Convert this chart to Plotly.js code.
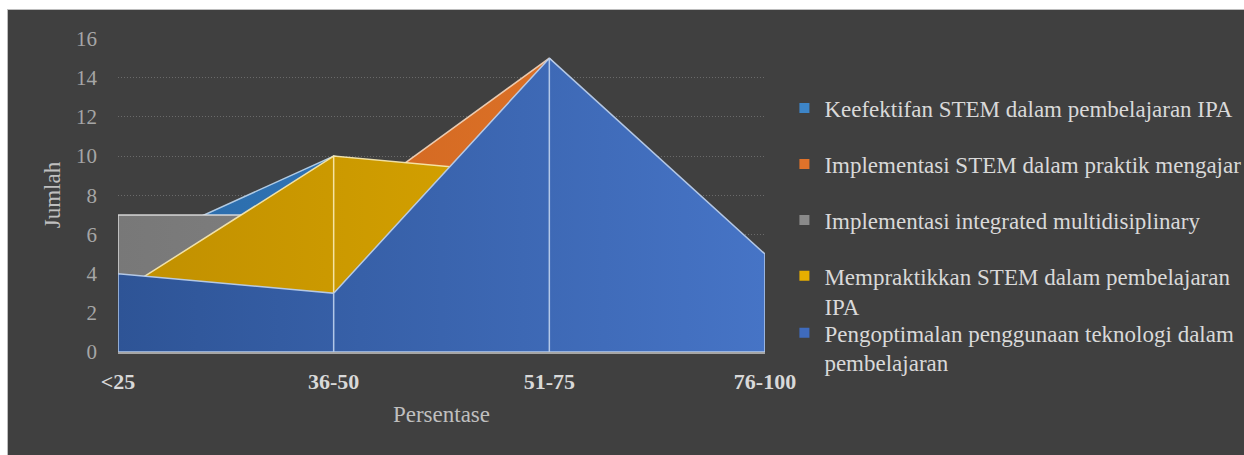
<!DOCTYPE html>
<html>
<head>
<meta charset="utf-8">
<script src="https://cdn.plot.ly/plotly-3.0.1.min.js"></script>
<style>
  html, body { margin: 0; padding: 0; background: #ffffff; width: 1244px; height: 455px; overflow: hidden; }
  #chart { position: absolute; left: 7px; top: 9px; width: 1236px; height: 445px; border: 1px solid #bdbdbd; border-right: none; border-bottom: none; }
</style>
</head>
<body>
<div id="chart"></div>
<script>
// ---- data ----
const categories = ['<25', '36-50', '51-75', '76-100'];
const keefektifan = [5, 10, 8, 3];
const implementasiStem = [6, 7, 15, 4];
const integratedMulti = [7, 7, 6, 2];
const mempraktikkan = [3, 10, 9, 4];
const pengoptimalan = [4, 3, 15, 5];
const seriesNames = [
  'Keefektifan STEM dalam pembelajaran IPA',
  'Implementasi STEM dalam praktik mengajar',
  'Implementasi integrated multidisiplinary',
  'Mempraktikkan STEM dalam pembelajaran<br>IPA',
  'Pengoptimalan penggunaan teknologi dalam<br>pembelajaran'
];
const yTickValues = [0, 2, 4, 6, 8, 10, 12, 14, 16];

// ---- styles ----
const styles = [
  { c0: '#2a6aa8', c1: '#3a85cc', line: 'rgba(190,215,240,0.9)', leg: '#3d85c8' },
  { c0: '#c85e1c', c1: '#e57a2c', line: 'rgba(245,215,190,0.9)', leg: '#e0722a' },
  { c0: '#787878', c1: '#8e8e8e', line: 'rgba(225,225,225,0.9)', leg: '#8a8a8a' },
  { c0: '#c08f00', c1: '#e2ae00', line: 'rgba(250,235,180,0.9)', leg: '#e6ae00' },
  { c0: '#2e5496', c1: '#4674c6', line: 'rgba(185,205,235,0.95)', leg: '#3f6bbd' }
];
const allSeries = [keefektifan, implementasiStem, integratedMulti, mempraktikkan, pengoptimalan];

function buildPolygon(vals) {
  const xs = [categories[0]], ys = [0];
  const n = vals.length;
  for (let i = 0; i < n; i++) {
    xs.push(categories[i]); ys.push(vals[i]);
    if (i > 0 && i < n - 1) {
      xs.push(categories[i]); ys.push(0);
      xs.push(categories[i]); ys.push(vals[i]);
    }
  }
  xs.push(categories[n - 1]); ys.push(0);
  xs.push(categories[0]); ys.push(0);
  return { xs, ys };
}

const traces = [];
allSeries.forEach((vals, k) => {
  const p = buildPolygon(vals);
  traces.push({
    type: 'scatter', mode: 'lines', x: p.xs, y: p.ys,
    fill: 'toself',
    fillcolor: styles[k].c1,
    fillgradient: { type: 'horizontal', colorscale: [[0, styles[k].c0], [1, styles[k].c1]] },
    line: { color: styles[k].line, width: 1.5 },
    showlegend: false, hoverinfo: 'skip', name: seriesNames[k]
  });
});
allSeries.forEach((vals, k) => {
  traces.push({
    type: 'scatter', mode: 'markers', x: [null], y: [null],
    name: seriesNames[k], legendgroup: 'g' + k,
    legend: k < 4 ? 'legend' : 'legend2',
    marker: { symbol: 'square', size: 10, color: styles[k].leg },
    showlegend: true
  });
});

const fontFam = 'Liberation Serif';
const legendBase = {
  xanchor: 'left', yanchor: 'top', x: 1.03,
  bgcolor: 'rgba(0,0,0,0)', valign: 'top',
  font: { family: fontFam, size: 23, color: '#d9d9d9' },
  tracegroupgap: 23, itemclick: false
};

const layout = {
  width: 1236, height: 445,
  paper_bgcolor: '#404040', plot_bgcolor: '#404040',
  margin: { l: 110, r: 479, t: 28, b: 103, autoexpand: false },
  font: { family: fontFam, color: '#bfbfbf' },
  showlegend: true,
  xaxis: {
    type: 'category', categoryorder: 'array', categoryarray: categories,
    range: [0, 3], showgrid: false, zeroline: false, automargin: false,
    showline: true, linecolor: '#a6a6a6', linewidth: 1.5,
    ticks: 'outside', ticklen: 9, tickcolor: 'rgba(0,0,0,0)',
    tickfont: { family: fontFam, size: 22, color: '#d9d9d9', weight: 'bold' },
    title: { text: 'Persentase', font: { family: fontFam, size: 23, color: '#bfbfbf' }, standoff: 13 },
    fixedrange: true
  },
  yaxis: {
    range: [0, 16.03], tickvals: yTickValues, showgrid: true, automargin: false,
    gridcolor: '#6a6a6a', griddash: '1px,2px', gridwidth: 1,
    zeroline: false, showline: false,
    ticklabelstandoff: 20,
    tickfont: { family: fontFam, size: 21, color: '#a6a6a6' },
    title: { text: 'Jumlah', font: { family: fontFam, size: 23, color: '#bfbfbf' }, standoff: 8 },
    fixedrange: true
  },
  legend: Object.assign({}, legendBase, { y: 0.845 }),
  legend2: Object.assign({}, legendBase, { y: 0.13 })
};

Plotly.newPlot('chart', traces, layout, { displayModeBar: false, staticPlot: true });
</script>
</body>
</html>
